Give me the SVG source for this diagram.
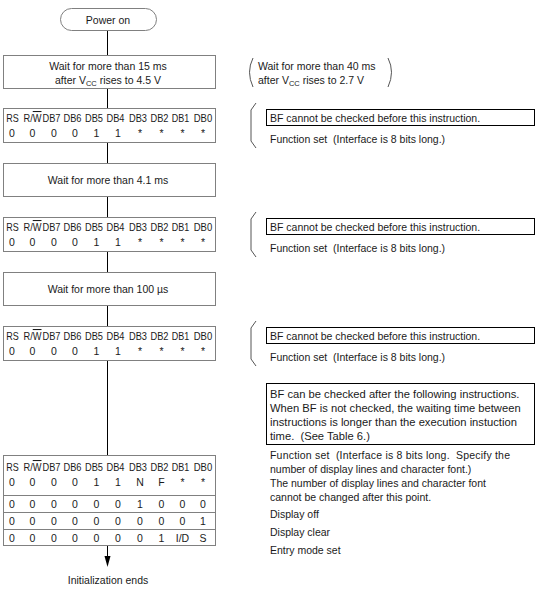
<svg xmlns="http://www.w3.org/2000/svg" width="543" height="589" viewBox="0 0 543 589">
<defs>
<style>
.bg{fill:#fff}
.box{fill:#fff;stroke:#808080;stroke-width:1}
.nbox{fill:none;stroke:#000;stroke-width:1}
.t{font-family:"Liberation Sans",Arial,sans-serif;font-size:10.5px;fill:#1a1a1a}
.big{font-size:11.2px}
.c{text-anchor:middle}
.sub{font-size:7.5px}
.conn{stroke:#000;stroke-width:1;fill:none}
.br{stroke:#555;stroke-width:1;fill:none}
.ov{text-decoration:overline}
</style>
</defs>
<rect class="bg" x="0" y="0" width="543" height="589"/>

<g id="connectors">
<line class="conn" x1="107.5" y1="30" x2="107.5" y2="55"/>
<line class="conn" x1="107.5" y1="89" x2="107.5" y2="108"/>
<line class="conn" x1="107.5" y1="143" x2="107.5" y2="163"/>
<line class="conn" x1="107.5" y1="197" x2="107.5" y2="217"/>
<line class="conn" x1="107.5" y1="252" x2="107.5" y2="272"/>
<line class="conn" x1="107.5" y1="306" x2="107.5" y2="326"/>
<line class="conn" x1="107.5" y1="361" x2="107.5" y2="455"/>
<path class="conn" d="M107.5,546 V557"/>
<path d="M104.5,556 L110.5,556 L107.5,567 Z" fill="#000"/>
</g>

<g id="power-on">
<rect class="box" x="60.5" y="8.5" width="96" height="22" rx="11" ry="11"/>
<text class="t c" x="108" y="23.5">Power on</text>
</g>

<g id="wait-15ms">
<rect class="box" x="3.5" y="55.5" width="212" height="33"/>
<text class="t c" x="108" y="70">Wait for more than 15 ms</text>
<text class="t c" x="108" y="83.5">after V<tspan class="sub" dy="2.5">CC</tspan><tspan dy="-2.5"> rises to 4.5 V</tspan></text>
</g>

<g id="reg-1">
<rect class="box" x="3.5" y="108.5" width="212" height="34"/>
<g class="t c">
<text x="12.5" y="122" textLength="12.5" lengthAdjust="spacingAndGlyphs">RS</text><text x="32.5" y="122" textLength="18" lengthAdjust="spacingAndGlyphs">R/<tspan class="ov">W</tspan></text><text x="51.5" y="122" textLength="18" lengthAdjust="spacingAndGlyphs">DB7</text><text x="72.5" y="122" textLength="18" lengthAdjust="spacingAndGlyphs">DB6</text><text x="94" y="122" textLength="18" lengthAdjust="spacingAndGlyphs">DB5</text><text x="115.5" y="122" textLength="18" lengthAdjust="spacingAndGlyphs">DB4</text><text x="138" y="122" textLength="18" lengthAdjust="spacingAndGlyphs">DB3</text><text x="159.5" y="122" textLength="18" lengthAdjust="spacingAndGlyphs">DB2</text><text x="180.5" y="122" textLength="17.5" lengthAdjust="spacingAndGlyphs">DB1</text><text x="203" y="122" textLength="18.5" lengthAdjust="spacingAndGlyphs">DB0</text>
<text x="12" y="137">0</text><text x="32.5" y="137">0</text><text x="54" y="137">0</text><text x="75" y="137">0</text><text x="96.5" y="137">1</text><text x="118" y="137">1</text><text x="140" y="137">*</text><text x="161.5" y="137">*</text><text x="182.5" y="137">*</text><text x="203" y="137">*</text>
</g>
</g>

<g id="wait-4ms">
<rect class="box" x="3.5" y="163.5" width="212" height="33"/>
<text class="t c" x="108" y="184">Wait for more than 4.1 ms</text>
</g>

<g id="reg-2">
<rect class="box" x="3.5" y="217.5" width="212" height="34"/>
<g class="t c">
<text x="12.5" y="231" textLength="12.5" lengthAdjust="spacingAndGlyphs">RS</text><text x="32.5" y="231" textLength="18" lengthAdjust="spacingAndGlyphs">R/<tspan class="ov">W</tspan></text><text x="51.5" y="231" textLength="18" lengthAdjust="spacingAndGlyphs">DB7</text><text x="72.5" y="231" textLength="18" lengthAdjust="spacingAndGlyphs">DB6</text><text x="94" y="231" textLength="18" lengthAdjust="spacingAndGlyphs">DB5</text><text x="115.5" y="231" textLength="18" lengthAdjust="spacingAndGlyphs">DB4</text><text x="138" y="231" textLength="18" lengthAdjust="spacingAndGlyphs">DB3</text><text x="159.5" y="231" textLength="18" lengthAdjust="spacingAndGlyphs">DB2</text><text x="180.5" y="231" textLength="17.5" lengthAdjust="spacingAndGlyphs">DB1</text><text x="203" y="231" textLength="18.5" lengthAdjust="spacingAndGlyphs">DB0</text>
<text x="12" y="246">0</text><text x="32.5" y="246">0</text><text x="54" y="246">0</text><text x="75" y="246">0</text><text x="96.5" y="246">1</text><text x="118" y="246">1</text><text x="140" y="246">*</text><text x="161.5" y="246">*</text><text x="182.5" y="246">*</text><text x="203" y="246">*</text>
</g>
</g>

<g id="wait-100us">
<rect class="box" x="3.5" y="272.5" width="212" height="33"/>
<text class="t c" x="108" y="293">Wait for more than 100 µs</text>
</g>

<g id="reg-3">
<rect class="box" x="3.5" y="326.5" width="212" height="34"/>
<g class="t c">
<text x="12.5" y="340" textLength="12.5" lengthAdjust="spacingAndGlyphs">RS</text><text x="32.5" y="340" textLength="18" lengthAdjust="spacingAndGlyphs">R/<tspan class="ov">W</tspan></text><text x="51.5" y="340" textLength="18" lengthAdjust="spacingAndGlyphs">DB7</text><text x="72.5" y="340" textLength="18" lengthAdjust="spacingAndGlyphs">DB6</text><text x="94" y="340" textLength="18" lengthAdjust="spacingAndGlyphs">DB5</text><text x="115.5" y="340" textLength="18" lengthAdjust="spacingAndGlyphs">DB4</text><text x="138" y="340" textLength="18" lengthAdjust="spacingAndGlyphs">DB3</text><text x="159.5" y="340" textLength="18" lengthAdjust="spacingAndGlyphs">DB2</text><text x="180.5" y="340" textLength="17.5" lengthAdjust="spacingAndGlyphs">DB1</text><text x="203" y="340" textLength="18.5" lengthAdjust="spacingAndGlyphs">DB0</text>
<text x="12" y="355">0</text><text x="32.5" y="355">0</text><text x="54" y="355">0</text><text x="75" y="355">0</text><text x="96.5" y="355">1</text><text x="118" y="355">1</text><text x="140" y="355">*</text><text x="161.5" y="355">*</text><text x="182.5" y="355">*</text><text x="203" y="355">*</text>
</g>
</g>

<g id="reg-table">
<rect class="box" x="3.5" y="455.5" width="212" height="90"/>
<line class="box" x1="3.5" y1="495.5" x2="215.5" y2="495.5"/>
<line class="box" x1="3.5" y1="512.5" x2="215.5" y2="512.5"/>
<line class="box" x1="3.5" y1="529.5" x2="215.5" y2="529.5"/>
<g class="t c">
<text x="12.5" y="471" textLength="12.5" lengthAdjust="spacingAndGlyphs">RS</text><text x="32.5" y="471" textLength="18" lengthAdjust="spacingAndGlyphs">R/<tspan class="ov">W</tspan></text><text x="51.5" y="471" textLength="18" lengthAdjust="spacingAndGlyphs">DB7</text><text x="72.5" y="471" textLength="18" lengthAdjust="spacingAndGlyphs">DB6</text><text x="94" y="471" textLength="18" lengthAdjust="spacingAndGlyphs">DB5</text><text x="115.5" y="471" textLength="18" lengthAdjust="spacingAndGlyphs">DB4</text><text x="138" y="471" textLength="18" lengthAdjust="spacingAndGlyphs">DB3</text><text x="159.5" y="471" textLength="18" lengthAdjust="spacingAndGlyphs">DB2</text><text x="180.5" y="471" textLength="17.5" lengthAdjust="spacingAndGlyphs">DB1</text><text x="203" y="471" textLength="18.5" lengthAdjust="spacingAndGlyphs">DB0</text>
<text x="12" y="486">0</text><text x="32.5" y="486">0</text><text x="54" y="486">0</text><text x="75" y="486">0</text><text x="96.5" y="486">1</text><text x="118" y="486">1</text><text x="140" y="486">N</text><text x="161.5" y="486">F</text><text x="182.5" y="486">*</text><text x="203" y="486">*</text>
<text x="12" y="508">0</text><text x="32.5" y="508">0</text><text x="54" y="508">0</text><text x="75" y="508">0</text><text x="96.5" y="508">0</text><text x="118" y="508">0</text><text x="140" y="508">1</text><text x="161.5" y="508">0</text><text x="182.5" y="508">0</text><text x="203" y="508">0</text>
<text x="12" y="525">0</text><text x="32.5" y="525">0</text><text x="54" y="525">0</text><text x="75" y="525">0</text><text x="96.5" y="525">0</text><text x="118" y="525">0</text><text x="140" y="525">0</text><text x="161.5" y="525">0</text><text x="182.5" y="525">0</text><text x="203" y="525">1</text>
<text x="12" y="542">0</text><text x="32.5" y="542">0</text><text x="54" y="542">0</text><text x="75" y="542">0</text><text x="96.5" y="542">0</text><text x="118" y="542">0</text><text x="140" y="542">0</text><text x="161.5" y="542">1</text><text x="182.5" y="542">I/D</text><text x="203" y="542">S</text>
</g>
</g>

<g id="init-ends">
<text class="t c" x="108" y="584">Initialization ends</text>
</g>

<g id="note-vcc">
<path class="br" d="M253,58 Q246,72 253,87"/>
<path class="br" d="M388,58 Q395,72 388,87"/>
<text class="t" x="258" y="70">Wait for more than 40 ms</text>
<text class="t" x="258" y="83.5">after V<tspan class="sub" dy="2.5">CC</tspan><tspan dy="-2.5"> rises to 2.7 V</tspan></text>
</g>

<g id="note-1">
<path class="br" d="M256,103 L251,110 V141 L256,148"/>
<rect class="nbox" x="266.5" y="109.5" width="268" height="16"/>
<text class="t" x="270" y="121.5">BF cannot be checked before this instruction.</text>
<text class="t" x="270" y="143">Function set&#160; (Interface is 8 bits long.)</text>
</g>

<g id="note-2">
<path class="br" d="M256,212 L251,219 V250 L256,257"/>
<rect class="nbox" x="266.5" y="218.5" width="268" height="16"/>
<text class="t" x="270" y="230.5">BF cannot be checked before this instruction.</text>
<text class="t" x="270" y="252">Function set&#160; (Interface is 8 bits long.)</text>
</g>

<g id="note-3">
<path class="br" d="M256,321 L251,328 V359 L256,366"/>
<rect class="nbox" x="266.5" y="327.5" width="268" height="16"/>
<text class="t" x="270" y="339.5">BF cannot be checked before this instruction.</text>
<text class="t" x="270" y="361">Function set&#160; (Interface is 8 bits long.)</text>
</g>

<g id="note-4">
<rect class="nbox" x="266.5" y="383.5" width="268" height="61"/>
<text class="t big" x="270" y="397.5">BF can be checked after the following instructions.</text>
<text class="t big" x="270" y="411.5">When BF is not checked, the waiting time between</text>
<text class="t big" x="270" y="425.5">instructions is longer than the execution instuction</text>
<text class="t big" x="270" y="439.5">time.&#160; (See Table 6.)</text>
<text class="t" x="270" y="458.5" textLength="240" lengthAdjust="spacing">Function set&#160; (Interface is 8 bits long.&#160; Specify the</text>
<text class="t" x="270" y="472.5">number of display lines and character font.)</text>
<text class="t" x="270" y="486.5">The number of display lines and character font</text>
<text class="t" x="270" y="500.5">cannot be changed after this point.</text>
<text class="t" x="270" y="518">Display off</text>
<text class="t" x="270" y="536">Display clear</text>
<text class="t" x="270" y="554">Entry mode set</text>
</g>
</svg>
